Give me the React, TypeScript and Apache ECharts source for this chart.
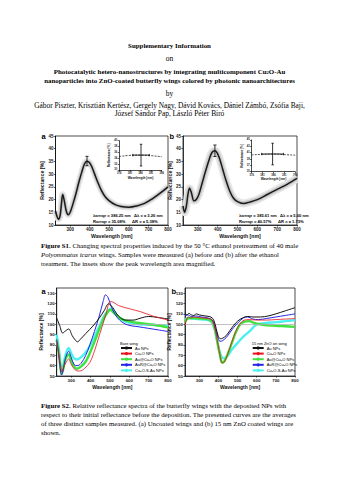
import React, { useEffect, useRef } from 'react';
import * as echarts from 'echarts';

const SERIF = '"Liberation Serif", "Times New Roman", serif';
const SANS = '"Liberation Sans", Arial, sans-serif';

// ---------------- Figure S1 data ----------------
const s1XTicks = [300, 400, 500, 600, 700, 800];
const s1YTicks = [10, 15, 20, 25, 30, 35, 40, 45];
const s1aSpectrum = [
  [225, 15.5], [232, 13.5], [240, 12.3], [248, 13.5], [255, 18], [262, 22], [270, 19.5], [280, 15.5],
  [290, 14], [300, 15], [315, 18.5], [330, 22.5], [345, 27], [360, 31], [373, 34], [386, 35.1],
  [398, 34.6], [410, 33], [425, 30], [440, 27], [460, 23.5], [480, 21], [500, 19.5], [530, 18],
  [560, 17.3], [600, 17], [640, 17.5], [680, 18.5], [720, 20.3], [760, 22.5], [800, 25],
];
const s1bSpectrum = [
  [225, 17.5], [233, 15], [242, 17.5], [250, 22], [258, 24.5], [268, 22.5], [280, 19.5], [292, 20],
  [305, 22], [320, 26], [340, 31.5], [358, 36], [372, 38.6], [386, 39.2], [398, 38.3], [412, 35.5],
  [425, 32], [440, 28], [460, 23.5], [480, 20.5], [500, 19.2], [530, 18.5], [560, 19], [600, 20],
  [650, 22], [700, 24], [750, 26], [800, 28.3],
];
const s1aPeakError = [[386, 35.15, 1.85]];
const s1bPeakError = [[386, 39.2, 2.25]];

const insetXTicks = [376, 381, 386, 391, 396];
const insetAYTicks = [30, 32, 34, 36, 38, 40];
const insetBYTicks = [35, 37, 39, 41, 43, 45];
const insetAPeak = [[376, 34.6], [381, 35.0], [386, 35.1], [391, 34.9], [396, 34.5]];
const insetBPeak = [[376, 40.3], [381, 40.5], [386, 40.6], [391, 40.4], [396, 40.2]];
const insetACross = [[386.25, 35.08, 3.7, 3.9]];
const insetBCross = [[385.61, 40.57, 3.4, 5.0]];

// ---------------- Figure S2 data ----------------
const s2Names = ['Au NPs', 'Cu₂O NPs', 'Au@Cu₂O NPs', 'AuR@Cu₂O NPs', 'Cu₂O-S-Au NPs'];
const s2YTicks = [50, 60, 70, 80, 90, 100, 110, 120, 130];

const s2aAu = [
  [225, 106], [240, 99], [256, 91.5], [270, 93.5], [287, 95.4], [305, 89], [320, 85], [332, 83],
  [350, 86], [375, 91], [396, 95], [420, 100], [445, 106], [470, 113], [493, 119.7], [515, 116],
  [535, 110], [555, 106], [580, 104], [620, 104], [660, 106], [700, 107.5], [750, 106.5], [800, 105],
];
const s2aCu2O = [
  [225, 83], [235, 72], [245, 60], [252, 54], [262, 59], [276, 64], [287, 66.5], [298, 62],
  [315, 57], [335, 54.8], [350, 55], [370, 57.5], [396, 63], [420, 74], [440, 86], [460, 98],
  [480, 110], [502, 122], [520, 121], [545, 118], [600, 115], [660, 112], [720, 108], [800, 104],
];
const s2aAuCu2O = [
  [225, 85], [235, 73], [243, 60], [250, 52], [258, 56], [270, 66], [287, 70.7], [300, 65],
  [315, 59], [330, 57], [350, 59], [375, 64], [396, 72], [420, 83], [445, 95], [470, 106],
  [490, 112], [502, 114], [520, 111], [545, 107], [575, 104], [620, 102], [680, 100.5], [740, 99], [800, 97],
];
const s2aAuRCu2O = [
  [225, 85], [235, 72], [243, 58], [250, 51], [258, 55], [270, 67], [287, 73.8], [300, 68],
  [315, 61], [330, 60], [350, 62], [375, 70], [396, 80], [420, 93], [445, 108], [465, 122],
  [477, 128.4], [490, 126], [505, 118], [525, 110], [550, 104], [589, 99.5], [650, 97.5], [700, 96],
  [750, 94.5], [800, 93],
];
const s2aCu2OSAu = [
  [225, 90], [235, 78], [243, 65], [250, 57], [258, 60], [270, 70], [287, 77], [300, 72],
  [315, 67], [330, 66], [350, 68], [375, 73], [396, 79], [420, 88], [445, 98], [470, 108],
  [490, 113], [505, 115], [525, 111], [550, 106], [589, 102], [650, 100], [700, 99.5], [750, 99], [800, 98],
];

const s2bAu = [
  [225, 111], [235, 109], [245, 110.5], [258, 109], [270, 108.5], [285, 110], [300, 109], [330, 108],
  [360, 107], [375, 104], [388, 96], [398, 89], [410, 86], [422, 86.5], [440, 89], [460, 94],
  [480, 99], [500, 103], [525, 106], [552, 107.5], [580, 107], [620, 107], [660, 108], [700, 110],
  [750, 113], [800, 116],
];
const s2bCu2O = [
  [225, 99], [232, 104], [242, 107], [255, 106], [270, 107], [290, 106.5], [320, 106], [350, 105.5],
  [370, 103], [385, 93], [398, 80], [410, 68], [420, 62.5], [432, 64], [450, 72], [470, 83],
  [490, 93], [510, 100], [535, 104], [560, 104.5], [600, 104], [650, 104], [700, 104.5], [750, 105], [800, 105.5],
];
const s2bAuCu2O = [
  [225, 102], [235, 105], [250, 106], [270, 106], [300, 105.5], [340, 105], [365, 103], [380, 96],
  [395, 82], [408, 70], [418, 63], [430, 64], [450, 72], [470, 82], [490, 92], [510, 99],
  [535, 102.5], [560, 103], [590, 101], [630, 99.5], [700, 98.5], [750, 98], [800, 97.5],
];
const s2bAuRCu2O = [
  [225, 108], [240, 109], [258, 107.5], [280, 108], [310, 107], [345, 106], [368, 104], [383, 96],
  [396, 88], [408, 83.5], [420, 84], [440, 87], [460, 92], [480, 97], [505, 102], [530, 106],
  [552, 107], [580, 105], [610, 104.5], [650, 105.5], [700, 107], [750, 108.5], [800, 110],
];
const s2bCu2OSAu = [
  [225, 104], [240, 106], [260, 105.5], [290, 105], [330, 104.5], [360, 103], [378, 97], [392, 85],
  [405, 74], [418, 68], [432, 67], [450, 70], [470, 75.5], [500, 82], [530, 88], [562, 93],
  [598, 99.5], [640, 101], [700, 102], [750, 103], [800, 104],
];

const s2aSets = [s2aAu, s2aCu2O, s2aAuCu2O, s2aAuRCu2O, s2aCu2OSAu];
const s2bSets = [s2bAu, s2bCu2O, s2bAuCu2O, s2bAuRCu2O, s2bCu2OSAu];

// styles (not data)
const s2Styles = [
  { color: '#111111', width: 1.0, z: 6 },
  { color: '#e8101a', width: 0.8, z: 7 },
  { color: '#3fe23f', width: 2.4, z: 3 },
  { color: '#2424e8', width: 1.0, z: 5 },
  { color: '#4cf0f0', width: 2.4, z: 2 },
];

// ---------------- helpers ----------------
const axisLineStyle = { show: true, lineStyle: { color: '#000', width: 0.7 } };

function axisDef(gi: number, ticks: number[], min: number, max: number, fs: number, name: string, nameGap: number, nfs: number) {
  return {
    type: 'value', gridIndex: gi, min, max,
    axisLine: axisLineStyle,
    axisTick: { show: true, length: 1.6, customValues: ticks, lineStyle: { color: '#000', width: 0.6 } },
    axisLabel: { customValues: ticks, fontSize: fs, margin: 2, color: '#222', fontFamily: SANS, fontWeight: 'bold' },
    splitLine: { show: false },
    name, nameLocation: 'middle', nameGap,
    nameTextStyle: { fontSize: nfs, fontFamily: SANS, fontWeight: 'bold', color: '#111' },
  };
}

function spectrumSeries(data: number[][], idx: number, bandW: number) {
  const base = { type: 'line', xAxisIndex: idx, yAxisIndex: idx, data, symbol: 'none', smooth: 0.35, silent: true };
  return [
    { ...base, lineStyle: { color: '#e6e6e6', width: bandW }, z: 1 },
    { ...base, lineStyle: { color: '#c8c8c8', width: bandW * 0.55 }, z: 2 },
    { ...base, lineStyle: { color: '#1a1a1a', width: 1.5 }, z: 3 },
  ];
}

function crossSeries(idx: number, data: number[][], cap: number) {
  return {
    type: 'custom', xAxisIndex: idx, yAxisIndex: idx, data, z: 10, silent: true,
    renderItem: (_p: any, api: any) => {
      const x = api.value(0), y = api.value(1), dy = api.value(2), dx = api.value(3);
      const st = { stroke: '#000', lineWidth: 0.8 };
      const t = api.coord([x, y + dy]);
      const b = api.coord([x, y - dy]);
      const ch: any[] = [
        { type: 'line', shape: { x1: t[0], y1: t[1], x2: b[0], y2: b[1] }, style: st },
        { type: 'line', shape: { x1: t[0] - cap, y1: t[1], x2: t[0] + cap, y2: t[1] }, style: st },
        { type: 'line', shape: { x1: b[0] - cap, y1: b[1], x2: b[0] + cap, y2: b[1] }, style: st },
      ];
      if (dx > 0) {
        const l = api.coord([x - dx, y]);
        const r = api.coord([x + dx, y]);
        ch.push({ type: 'line', shape: { x1: l[0], y1: l[1], x2: r[0], y2: r[1] }, style: st });
        ch.push({ type: 'line', shape: { x1: l[0], y1: l[1] - cap, x2: l[0], y2: l[1] + cap }, style: st });
        ch.push({ type: 'line', shape: { x1: r[0], y1: r[1] - cap, x2: r[0], y2: r[1] + cap }, style: st });
      }
      return { type: 'group', children: ch };
    },
  };
}

const BODY = 6.8;
const HEAD = 7.4;
const HEAD_B = 6.9;

function txt(x: number, y: number, text: string, o: any = {}) {
  return {
    type: 'text', x, y, silent: true,
    style: {
      text,
      fontSize: o.fontSize ?? BODY,
      fontFamily: o.fontFamily ?? SERIF,
      fontWeight: o.fontWeight ?? 'normal',
      fontStyle: o.fontStyle ?? 'normal',
      fill: o.fill ?? '#000',
      align: o.align ?? 'left',
      verticalAlign: 'middle',
      rich: o.rich,
    },
  };
}

const richBody = {
  b: { fontSize: BODY, fontFamily: SERIF, fontWeight: 'bold', fill: '#000' },
  i: { fontSize: BODY, fontFamily: SERIF, fontStyle: 'italic', fill: '#000' },
};
const richSub = {
  s: { fontSize: 4.6, fontFamily: SERIF, fontWeight: 'bold', verticalAlign: 'bottom', fill: '#000' },
};
const richAnno = {
  sub: { fontSize: 2.9, fontFamily: SANS, fontWeight: 'bold', verticalAlign: 'bottom', fill: '#000' },
};

export default function App() {
  const ref = useRef<HTMLDivElement>(null);
  useEffect(() => {
    if (!ref.current) return;
    const chart = echarts.init(ref.current, undefined, { renderer: 'svg' });

    const grids = [
      { left: 55.5, top: 136, width: 112.5, height: 89, show: true, borderColor: '#000', borderWidth: 0.7 },
      { left: 183, top: 136, width: 114, height: 89, show: true, borderColor: '#000', borderWidth: 0.7 },
      { left: 119.3, top: 140.7, width: 42.4, height: 29.3, show: false },
      { left: 251.7, top: 140, width: 43.5, height: 31.7, show: false },
      { left: 56.7, top: 288, width: 111.3, height: 88, show: true, borderColor: '#000', borderWidth: 0.7 },
      { left: 185, top: 288, width: 110, height: 88, show: true, borderColor: '#000', borderWidth: 0.7 },
    ];

    const xAxes = [
      axisDef(0, s1XTicks, 225, 800, 4.5, 'Wavelength [nm]', 8.5, 5.2),
      axisDef(1, s1XTicks, 225, 800, 4.5, 'Wavelength [nm]', 8.5, 5.2),
      axisDef(2, insetXTicks, 376, 396, 2.7, 'Wavelength [nm]', 5, 3.2),
      axisDef(3, insetXTicks, 376, 396, 2.7, 'Wavelength [nm]', 5, 3.2),
      axisDef(4, s1XTicks, 225, 800, 4.4, 'Wavelength [nm]', 8.5, 5),
      axisDef(5, s1XTicks, 225, 800, 4.4, 'Wavelength [nm]', 8.5, 5),
    ];
    const yAxes = [
      axisDef(0, s1YTicks, 10, 45, 4.5, 'Reflectance [%]', 8.5, 5.2),
      axisDef(1, s1YTicks, 10, 45, 4.5, 'Reflectance [%]', 8.5, 5.2),
      axisDef(2, insetAYTicks, 30, 40, 2.7, 'Reflectance [%]', 5, 3.2),
      axisDef(3, insetBYTicks, 35, 45, 2.7, 'Reflectance [%]', 5, 3.2),
      axisDef(4, s2YTicks, 50, 135, 4.4, 'Reflectance [%]', 11, 5),
      axisDef(5, s2YTicks, 50, 135, 4.4, 'Reflectance [%]', 11, 5),
    ];

    const series: any[] = [
      ...spectrumSeries(s1aSpectrum, 0, 6.5),
      ...spectrumSeries(s1bSpectrum, 1, 8),
      crossSeries(0, s1aPeakError, 1.6),
      crossSeries(1, s1bPeakError, 1.6),
      { type: 'line', xAxisIndex: 2, yAxisIndex: 2, data: insetAPeak, symbol: 'none', smooth: true, silent: true,
        lineStyle: { color: '#000', width: 0.7, type: [2, 1.2] } },
      { type: 'line', xAxisIndex: 3, yAxisIndex: 3, data: insetBPeak, symbol: 'none', smooth: true, silent: true,
        lineStyle: { color: '#000', width: 0.7, type: [2, 1.2] } },
      crossSeries(2, insetACross, 1.2),
      crossSeries(3, insetBCross, 1.2),
    ];

    [s2aSets, s2bSets].forEach((sets, p) => {
      const gi = 4 + p;
      sets.forEach((d, k) => {
        const st = s2Styles[k];
        const s: any = {
          type: 'line', name: s2Names[k], xAxisIndex: gi, yAxisIndex: gi, data: d,
          symbol: 'none', smooth: 0.35, silent: true, z: st.z,
          lineStyle: { color: st.color, width: st.width },
          itemStyle: { color: st.color },
        };
        if (k === 0) {
          s.markLine = {
            silent: true, symbol: 'none', label: { show: false },
            lineStyle: { color: '#b0b0b0', width: 0.8, type: 'solid' },
            data: [{ yAxis: 100 }],
          };
        }
        series.push(s);
      });
    });

    const legendBase = {
      orient: 'vertical', itemWidth: 11, itemHeight: 4, itemGap: 1.6, padding: 0,
      selectedMode: false, data: s2Names,
      textStyle: { fontSize: 4, fontFamily: SANS, color: '#000', padding: [0, 0, 0, -2] },
    };

    const graphic = [
      txt(169.5, 45, 'Supplementary Information', { align: 'center', fontWeight: 'bold', fontSize: HEAD_B }),
      txt(169.5, 58.5, 'on', { align: 'center', fontSize: HEAD }),
      txt(169.5, 71.5, 'Photocatalytic hetero-nanostructures by integrating multicomponent Cu{s|2}O-Au',
        { align: 'center', fontWeight: 'bold', fontSize: HEAD_B, rich: richSub }),
      txt(169.5, 80.5, 'nanoparticles into ZnO-coated butterfly wings colored by photonic nanoarchitectures',
        { align: 'center', fontWeight: 'bold', fontSize: HEAD_B }),
      txt(169.5, 93, 'by', { align: 'center', fontSize: HEAD }),
      txt(169.5, 105, 'Gábor Piszter, Krisztián Kertész, Gergely Nagy, Dávid Kovács, Dániel Zámbó, Zsófia Baji,',
        { align: 'center', fontSize: HEAD }),
      txt(169.5, 113.5, 'József Sándor Pap, László Péter Biró', { align: 'center', fontSize: HEAD }),

      txt(41.5, 136.5, 'a', { fontFamily: SANS, fontWeight: 'bold', fontSize: 7.5 }),
      txt(169.5, 136.5, 'b', { fontFamily: SANS, fontWeight: 'bold', fontSize: 7.5 }),
      txt(93, 215, 'λ{sub|average} = 386.25 nm   Δλ = ± 3.26 nm',
        { fontFamily: SANS, fontWeight: 'bold', fontSize: 4.1, rich: richAnno }),
      txt(93, 221, 'R{sub|average} = 35.08%      ΔR = ± 5.38%',
        { fontFamily: SANS, fontWeight: 'bold', fontSize: 4.1, rich: richAnno }),
      txt(239, 215, 'λ{sub|average} = 385.61 nm   Δλ = ± 5.00 nm',
        { fontFamily: SANS, fontWeight: 'bold', fontSize: 4.1, rich: richAnno }),
      txt(239, 221, 'R{sub|average} = 40.57%      ΔR = ± 1.73%',
        { fontFamily: SANS, fontWeight: 'bold', fontSize: 4.1, rich: richAnno }),

      txt(41, 245, '{b|Figure S1.} Changing spectral properties induced by the 50 °C ethanol pretreatment of 40 male',
        { rich: richBody }),
      txt(41, 254, '{i|Polyommatus icarus} wings. Samples were measured (a) before and (b) after the ethanol',
        { rich: richBody }),
      txt(41, 263, 'treatment. The insets show the peak wavelength area magnified.'),

      txt(41.5, 291, 'a', { fontFamily: SANS, fontWeight: 'bold', fontSize: 7.5 }),
      txt(171.5, 291, 'b', { fontFamily: SANS, fontWeight: 'bold', fontSize: 7.5 }),
      txt(120, 343, 'Bare wing', { fontFamily: SANS, fontSize: 4 }),
      txt(251.7, 343, '15 nm ZnO on wing', { fontFamily: SANS, fontSize: 4 }),

      txt(41, 405, '{b|Figure S2.} Relative reflectance spectra of the butterfly wings with the deposited NPs with',
        { rich: richBody }),
      txt(41, 414, 'respect to their initial reflectance before the deposition. The presented curves are the averages'),
      txt(41, 423, 'of three distinct samples measured. (a) Uncoated wings and (b) 15 nm ZnO coated wings are'),
      txt(41, 432, 'shown.'),
    ];

    chart.setOption({
      animation: false,
      backgroundColor: '#ffffff',
      grid: grids,
      xAxis: xAxes,
      yAxis: yAxes,
      series,
      legend: [
        { ...legendBase, left: 120, top: 346 },
        { ...legendBase, left: 251.7, top: 346 },
      ],
      graphic,
    });
    return () => chart.dispose();
  }, []);

  return (
    <div
      ref={ref}
      style={{ position: 'fixed', left: 0, top: 0, width: 339, height: 480, background: '#fff' }}
    />
  );
}
